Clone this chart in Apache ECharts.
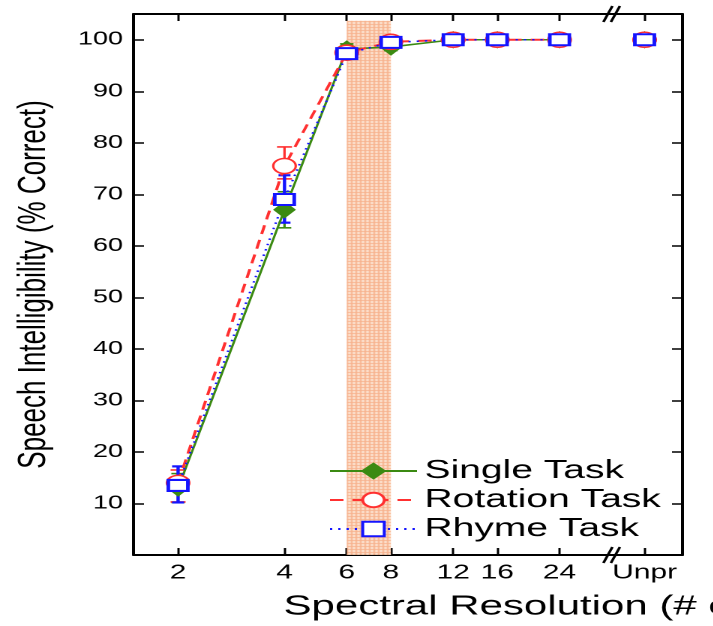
<!DOCTYPE html>
<html>
<head>
<meta charset="utf-8">
<script src="https://cdn.jsdelivr.net/npm/echarts@6/dist/echarts.min.js"></script>
<style>
  html, body { margin: 0; padding: 0; background: #fff; overflow: hidden; }
  #wrap { width: 713px; height: 626px; overflow: hidden; }
  /* the original figure is stretched sideways, so draw narrow and widen */
  #chart { width: 475px; height: 626px; transform: scaleX(1.5); transform-origin: 0 0; }
</style>
</head>
<body>
<div id="wrap"><div id="chart"></div></div>
<script>
// channel counts on a log2 axis, plus the unprocessed point set apart
var channels = [2, 4, 6, 8, 12, 16, 24];
var unprPos = 5.384;
var xTickLabels = ['2', '4', '6', '8', '12', '16', '24', 'Unpr'];
var yTickValues = [0, 10, 20, 30, 40, 50, 60, 70, 80, 90, 100];
var yLabelValues = [10, 20, 30, 40, 50, 60, 70, 80, 90, 100];

var singleTask = [13, 67, 98.2, 98.6, 100, 100, 100, 100];
var singleLow = [10.2, 63.5, 97.2, 97.9, 100, 100, 100, 100];
var singleHigh = [15.8, 70.5, 99.2, 99.3, 100, 100, 100, 100];

var rotationTask = [14, 75.5, 97.5, 99.6, 100, 100, 100, 100];
var rotationLow = [10.3, 73, 96.5, 99.1, 100, 100, 100, 100];
var rotationHigh = [16.5, 79.2, 98.5, 100.1, 100, 100, 100, 100];

var rhymeTask = [13.5, 69, 97.3, 99.5, 100, 100, 100, 100];
var rhymeLow = [10.2, 64.5, 96.6, 99, 100, 100, 100, 100];
var rhymeHigh = [17.2, 73.7, 98, 100, 100, 100, 100, 100];

// shaded band between 6 and 8 channels
var shadeFrom = 6, shadeTo = 8, shadeTop = 103.7;
var breakPos = 5.074;

var font = 'Liberation Sans, Arial, Helvetica, sans-serif';
var green = '#3b8a12', red = '#ff3030', blue = '#1414ff';

var xPos = channels.map(function (c) { return Math.log2(c); }).concat([unprPos]);

function lineData (vals) {
  var d = [];
  for (var i = 0; i < 7; i++) d.push([xPos[i], vals[i]]);
  d.push([(xPos[6] + unprPos) / 2, '-']);
  d.push([unprPos, vals[7]]);
  return d;
}

function errSeries (name, color, lows, highs, cap, width) {
  return {
    type: 'custom',
    name: name,
    silent: true,
    encode: { x: 0, y: [1, 2] },
    data: xPos.map(function (x, i) { return [x, lows[i], highs[i]]; }),
    renderItem: function (params, api) {
      var lo = api.coord([api.value(0), api.value(1)]);
      var hi = api.coord([api.value(0), api.value(2)]);
      var style = { stroke: color, lineWidth: width };
      return {
        type: 'group',
        children: [
          { type: 'line', shape: { x1: lo[0], y1: lo[1], x2: hi[0], y2: hi[1] }, style: style },
          { type: 'line', shape: { x1: lo[0] - cap, y1: lo[1], x2: lo[0] + cap, y2: lo[1] }, style: style },
          { type: 'line', shape: { x1: hi[0] - cap, y1: hi[1], x2: hi[0] + cap, y2: hi[1] }, style: style }
        ]
      };
    }
  };
}

// small dotted pattern for the band
var pat = document.createElement('canvas');
pat.width = 3; pat.height = 3;
var pc = pat.getContext('2d');
pc.fillStyle = '#fde2ce';
pc.fillRect(0, 0, 3, 3);
pc.fillStyle = '#f7a980';
pc.fillRect(0, 0, 3, 1);
pc.fillRect(0, 0, 1, 3);

var myChart = echarts.init(document.getElementById('chart'), null, { devicePixelRatio: 2 });

var axisLine = { show: true, onZero: false, lineStyle: { color: '#000', width: 2 } };
var tick = { show: true, inside: true, length: 7, lineStyle: { color: '#000', width: 1.5 } };

var option = {
  animation: false,
  grid: { left: 89, right: 20, top: 14, bottom: 71, containLabel: false },
  legend: {
    orient: 'vertical',
    left: 214,
    top: 453,
    itemWidth: 58,
    itemHeight: 18,
    itemGap: 3,
    selectedMode: false,
    textStyle: { fontSize: 26, color: '#000', fontFamily: font },
    data: ['Single Task', 'Rotation Task', 'Rhyme Task']
  },
  xAxis: [
    {
      type: 'value',
      position: 'bottom',
      min: 0.581,
      max: 5.74,
      splitLine: { show: false },
      axisLine: axisLine,
      axisTick: Object.assign({}, tick, { customValues: xPos }),
      axisLabel: {
        customValues: xPos,
        margin: 8,
        fontSize: 20,
        color: '#000',
        fontFamily: font,
        formatter: function (v) {
          for (var i = 0; i < xPos.length; i++) {
            if (Math.abs(xPos[i] - v) < 1e-6) return xTickLabels[i];
          }
          return '';
        }
      }
    },
    {
      type: 'value',
      position: 'top',
      min: 0.581,
      max: 5.74,
      splitLine: { show: false },
      axisLine: axisLine,
      axisTick: Object.assign({}, tick, { customValues: xPos }),
      axisLabel: { show: false }
    }
  ],
  yAxis: [
    {
      type: 'value',
      position: 'left',
      min: 0,
      max: 105,
      interval: 10,
      splitLine: { show: false },
      axisLine: axisLine,
      axisTick: Object.assign({}, tick, { customValues: yTickValues }),
      axisLabel: {
        customValues: yLabelValues,
        margin: 7,
        fontSize: 18,
        color: '#000',
        fontFamily: font
      },
      name: 'Speech Intelligibility (% Correct)',
      nameLocation: 'middle',
      nameGap: 53,
      nameTextStyle: { fontSize: 26, color: '#000', fontFamily: font }
    },
    {
      type: 'value',
      position: 'right',
      min: 0,
      max: 105,
      interval: 10,
      splitLine: { show: false },
      axisLine: axisLine,
      axisTick: Object.assign({}, tick, { customValues: yTickValues }),
      axisLabel: { show: false }
    }
  ],
  series: [
    errSeries('single err', green, singleLow, singleHigh, 4.5, 1.6),
    {
      name: 'Single Task',
      type: 'line',
      data: lineData(singleTask),
      symbol: 'diamond',
      symbolSize: [14, 16],
      lineStyle: { color: green, width: 1.6, type: 'solid' },
      itemStyle: { color: green, borderColor: green, borderWidth: 1 },
      markArea: {
        silent: true,
        itemStyle: { color: { image: pat, repeat: 'repeat' }, opacity: 0.9 },
        data: [[{ xAxis: Math.log2(shadeFrom), yAxis: 0 }, { xAxis: Math.log2(shadeTo), yAxis: shadeTop }]]
      }
    },
    errSeries('rotation err', red, rotationLow, rotationHigh, 5, 1.6),
    {
      name: 'Rotation Task',
      type: 'line',
      data: lineData(rotationTask),
      symbol: 'circle',
      symbolSize: 15,
      lineStyle: { color: red, width: 2, type: [9, 6] },
      itemStyle: { color: '#fff', borderColor: red, borderWidth: 1.6 }
    },
    errSeries('rhyme err', blue, rhymeLow, rhymeHigh, 4, 2.2),
    {
      name: 'Rhyme Task',
      type: 'line',
      data: lineData(rhymeTask),
      symbol: 'rect',
      symbolSize: [13, 11],
      lineStyle: { color: blue, width: 1.6, type: [1.5, 4] },
      itemStyle: { color: '#fff', borderColor: blue, borderWidth: 2.2 }
    }
  ],
  graphic: [
    {
      type: 'text',
      left: 189,
      top: 593,
      style: { text: 'Spectral Resolution (# of channels)', fontSize: 28, fill: '#000', fontFamily: font }
    }
  ]
};
myChart.setOption(option);

// axis break marks "//" at top and bottom
var marks = [];
[0, 105].forEach(function (yv) {
  var p = myChart.convertToPixel({ xAxisIndex: 0, yAxisIndex: 0 }, [breakPos, yv]);
  [-2.5, 2.5].forEach(function (dx) {
    marks.push({
      type: 'line',
      shape: { x1: p[0] + dx - 3, y1: p[1] + 8, x2: p[0] + dx + 3, y2: p[1] - 8 },
      style: { stroke: '#000', lineWidth: 1.8 }
    });
  });
});
option.graphic = option.graphic.concat(marks);
myChart.setOption({ graphic: option.graphic });
</script>
</body>
</html>
